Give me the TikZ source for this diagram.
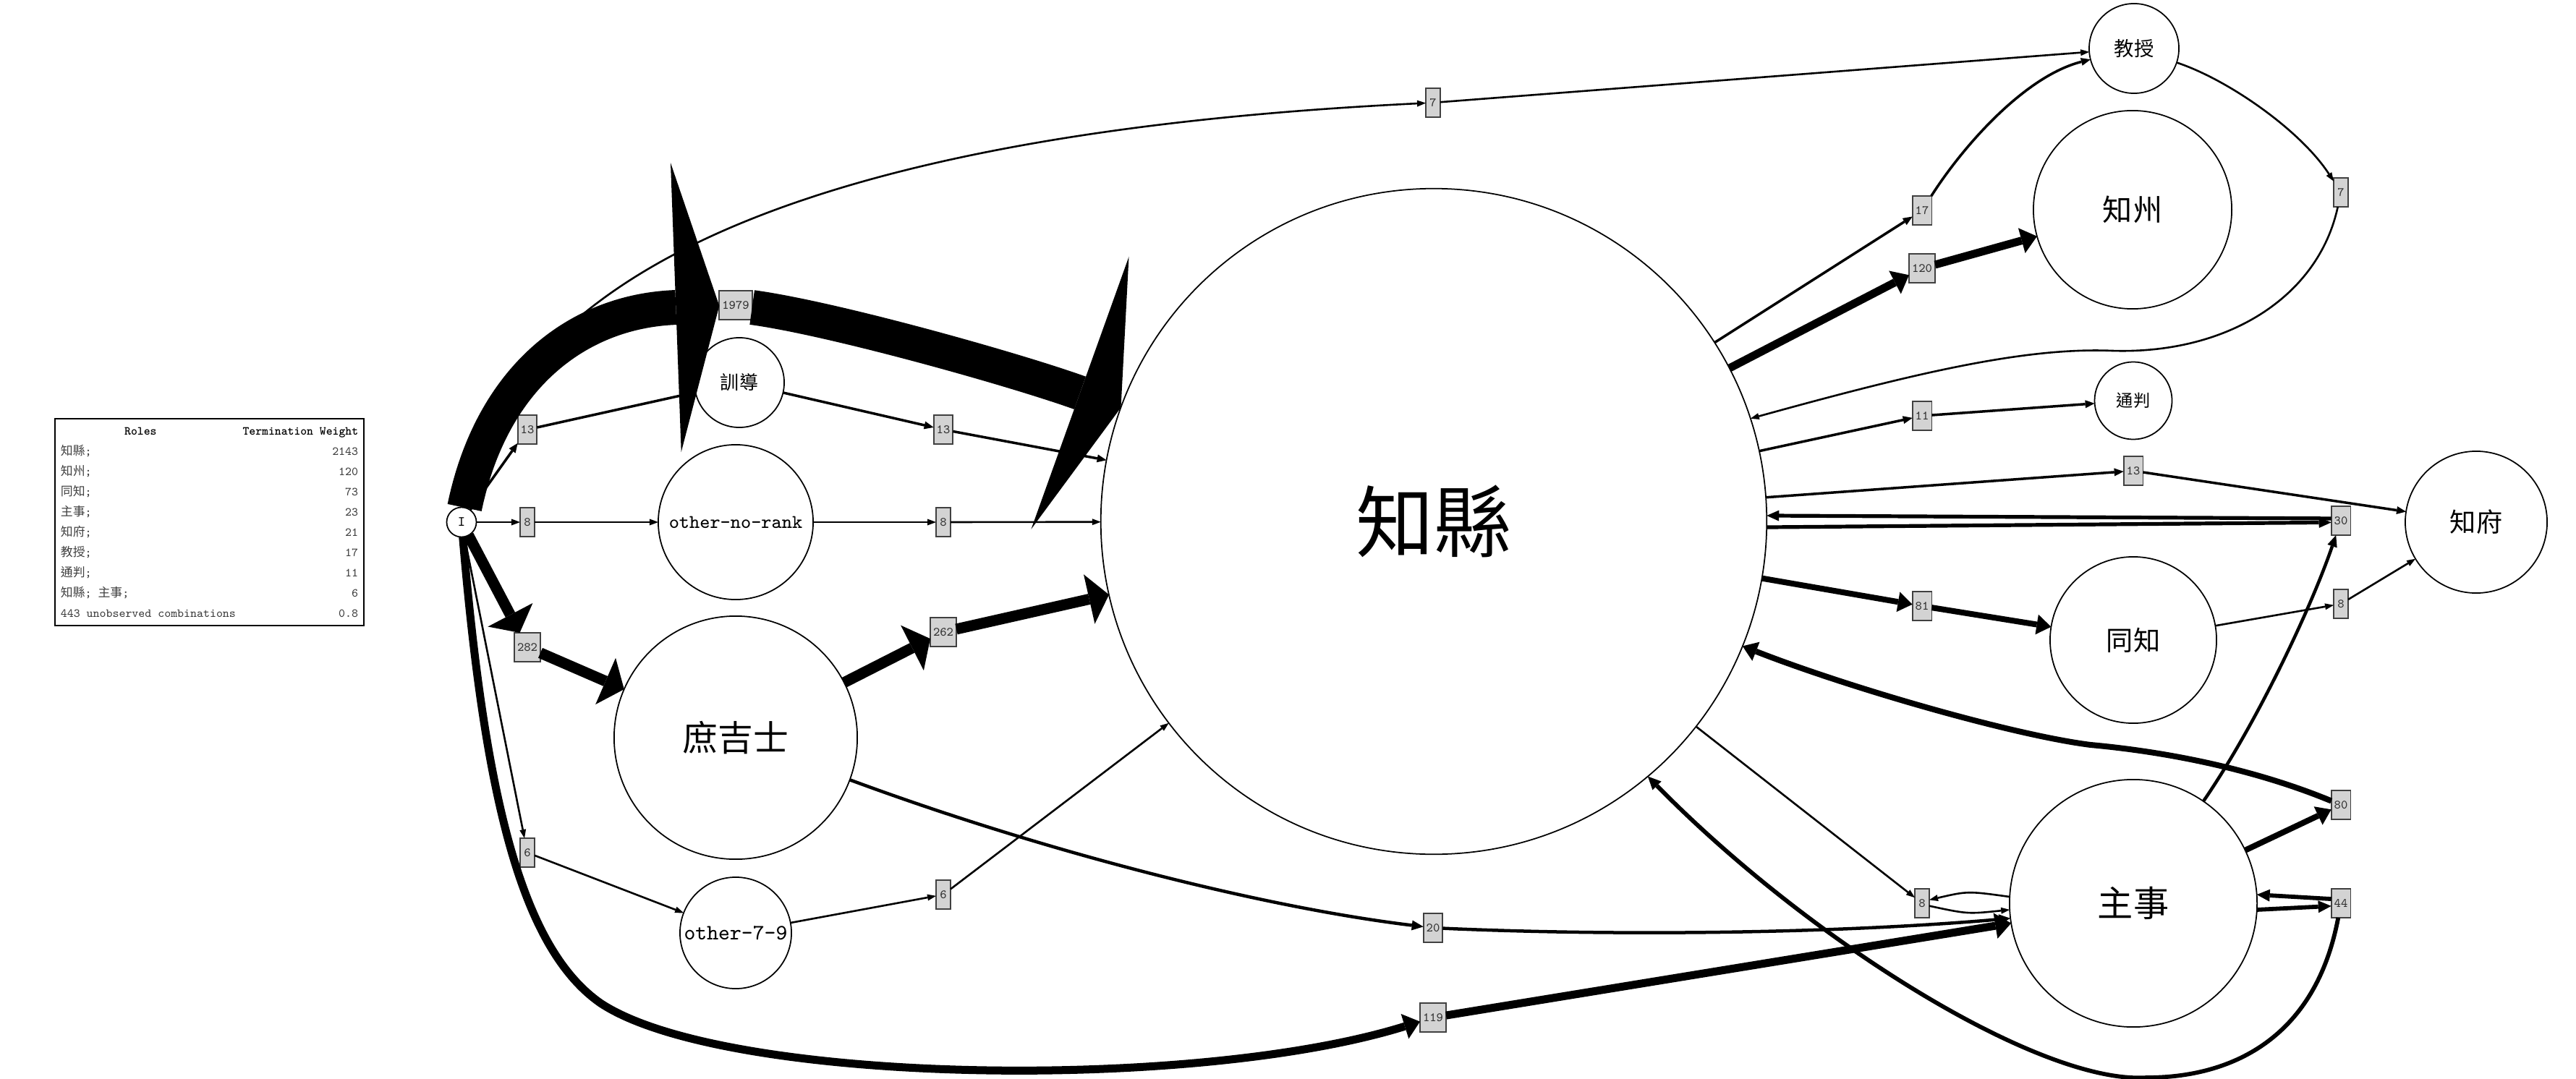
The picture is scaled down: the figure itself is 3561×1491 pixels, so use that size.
\documentclass[tikz,border=0pt]{standalone}
\usepackage{fontspec}
\usepackage{tikz}
\usetikzlibrary{arrows.meta}
\newfontfamily\cjk{Noto Sans CJK TC}
\definecolor{boxgray}{RGB}{211,211,211}
\tikzstyle{role}=[circle, draw, line width=0.5pt,
                  inner sep=0pt, outer sep=0pt]
\tikzstyle{wbox}=[rectangle, draw=black!75, fill=boxgray,
                  line width=0.5pt, minimum width=0.2cm,
                  minimum height=0.4cm, inner xsep=0.04cm,
                  inner ysep=0pt, outer sep=0pt, text=black!80,
                  font=\ttfamily\fontsize{5pt}{5pt}\selectfont]
\tikzstyle{flow}=[line cap=butt, line join=miter]
\tikzstyle{w2} =[flow, line width=0.026cm,
                 -{Triangle[length=0.12cm, width=0.09cm, line width=0pt]}]
\tikzstyle{w3} =[flow, line width=0.035cm,
                 -{Triangle[length=0.13cm, width=0.11cm, line width=0pt]}]
\tikzstyle{w4} =[flow, line width=0.045cm,
                 -{Triangle[length=0.16cm, width=0.14cm, line width=0pt]}]
\tikzstyle{w5} =[flow, line width=0.052cm,
                 -{Triangle[length=0.17cm, width=0.15cm, line width=0pt]}]
\tikzstyle{w6} =[flow, line width=0.058cm,
                 -{Triangle[length=0.18cm, width=0.17cm, line width=0pt]}]
\tikzstyle{w8} =[flow, line width=0.08cm,
                 -{Triangle[length=0.20cm, width=0.28cm, line width=0pt]}]
\tikzstyle{w11}=[flow, line width=0.11cm,
                 -{Triangle[length=0.22cm, width=0.36cm, line width=0pt]}]
\tikzstyle{w15}=[flow, line width=0.15cm,
                 -{Triangle[length=0.28cm, width=0.70cm, line width=0pt]}]
\tikzstyle{w48}=[flow, line width=0.48cm,
                 -{Triangle[length=0.60cm, width=4.00cm, line width=0pt]}]

\begin{document}
\begin{tikzpicture}[x=0.01cm, y=-0.01cm]
    \useasboundingbox (0,0) rectangle (3561,1491);

    % legend
    \node[draw, line width=0.5pt, inner xsep=0.08cm, inner ysep=0.03cm,
          font=\ttfamily\fontsize{4.8pt}{7.97pt}\selectfont] (tbl) at (289.5,722) {%
        \begin{tabular*}{4.11cm}{@{}l@{\extracolsep{\fill}}r@{}}
            \multicolumn{1}{@{}c}{\textbf{Roles}} & \textbf{Termination Weight}\\
            \color{black!75}{\cjk 知縣}; & \color{black!75}2143\\
            \color{black!75}{\cjk 知州}; & \color{black!75}120\\
            \color{black!75}{\cjk 同知}; & \color{black!75}73\\
            \color{black!75}{\cjk 主事}; & \color{black!75}23\\
            \color{black!75}{\cjk 知府}; & \color{black!75}21\\
            \color{black!75}{\cjk 教授}; & \color{black!75}17\\
            \color{black!75}{\cjk 通判}; & \color{black!75}11\\
            \color{black!75}{\cjk 知縣}; {\cjk 主事}; & \color{black!75}6\\
            \color{black!75}443 unobserved combinations & \color{black!75}0.8
        \end{tabular*}};

    % roles
    \node[role, minimum size=0.41cm, font=\ttfamily\fontsize{5.5pt}{6pt}\selectfont] (I) at (638,722) {I};
    \node[role, minimum size=1.24cm, font=\cjk\fontsize{7.4pt}{8pt}\selectfont] (xd) at (1022,529) {訓導};
    \node[role, minimum size=2.14cm, font=\ttfamily\fontsize{7.6pt}{8pt}\selectfont] (onr) at (1017,722) {other-no-rank};
    \node[role, minimum size=3.36cm, font=\cjk\fontsize{13.9pt}{14pt}\selectfont] (sjs) at (1017,1020) {庶吉士};
    \node[role, minimum size=1.54cm, font=\ttfamily\fontsize{8.6pt}{9pt}\selectfont] (o79) at (1017,1290) {other-7-9};
    \node[role, minimum size=9.2cm, font=\cjk\fontsize{30.7pt}{31pt}\selectfont] (zx) at (1982,721) {知縣};
    \node[role, minimum size=1.24cm, font=\cjk\fontsize{7.8pt}{8pt}\selectfont] (js) at (2950,67) {教授};
    \node[role, minimum size=2.74cm, font=\cjk\fontsize{11.7pt}{12pt}\selectfont] (zz) at (2948,290) {知州};
    \node[role, minimum size=1.07cm, font=\cjk\fontsize{6.6pt}{7pt}\selectfont] (tp) at (2949,554) {通判};
    \node[role, minimum size=1.96cm, font=\cjk\fontsize{10.3pt}{11pt}\selectfont] (zf) at (3423,722) {知府};
    \node[role, minimum size=2.30cm, font=\cjk\fontsize{10.6pt}{11pt}\selectfont] (tz) at (2949,885) {同知};
    \node[role, minimum size=3.42cm, font=\cjk\fontsize{14pt}{15pt}\selectfont] (zs) at (2949,1249) {主事};

    % weight boxes
    \foreach \n/\x/\y/\w in {b7a/1981/142/7, b1979/1017/422/1979, b13a/729/594/13,
        b8a/729/722/8, b282/729/895/282, b6a/729/1179/6, b13b/1304/594/13,
        b8b/1304/722/8, b262/1304/874/262, b6b/1304/1237/6, b20/1981/1283/20,
        b119/1981/1407/119, b17/2657/291/17, b120/2657/371/120, b11/2657/575/11,
        b81/2657/838/81, b8d/2657/1249/8, b13c/2949/651/13, b7b/3236/266/7,
        b30/3236/720/30, b8c/3236/835/8, b80/3236/1113/80, b44/3236/1249/44}
        \node[wbox] (\n) at (\x,\y) {\w};

    % out of I
    \draw[w2] (I) .. controls (690,430) and (1000,190) .. (b7a);
    \draw[w2] (b7a) to (js);
    \draw[w48] (I) .. controls (680,520) and (800,430) .. (b1979);
    \draw[w48] (b1979) .. controls (1150,440) and (1400,510) .. (zx.160);
    \draw[w3] (I) to (b13a);
    \draw[w3] (b13a) to (xd);
    \draw[w3] (xd) to (b13b);
    \draw[w3] (b13b) to (zx);
    \draw[w2] (I) to (b8a);
    \draw[w2] (b8a) to (onr);
    \draw[w2] (onr) to (b8b);
    \draw[w2] (b8b) to (zx);
    \draw[w15] (I) to (b282);
    \draw[w15] (b282) to (sjs);
    \draw[w15] (sjs) to (b262);
    \draw[w15] (b262) to (zx);
    \draw[w2] (I) to (b6a);
    \draw[w2] (b6a) to (o79);
    \draw[w2] (o79) to (b6b);
    \draw[w2] (b6b) to (zx);
    \draw[w11] (I) .. controls (670,1100) and (720,1310) .. (830,1387)
                   .. controls (1000,1500) and (1650,1510) .. (b119);
    \draw[w11] (b119) to (zs);
    \draw[w4] (sjs) .. controls (1450,1180) and (1750,1255) .. (b20);
    \draw[w4] (b20) .. controls (2250,1295) and (2550,1290) .. (zs.187);

    % out of the right side
    \draw[w3] (zx) to (b17);
    \draw[w3] (b17) .. controls (2715,200) and (2800,105) .. (js);
    \draw[w11] (zx) to (b120);
    \draw[w11] (b120) to (zz);
    \draw[w2] (js) .. controls (3080,110) and (3180,180) .. (b7b);
    \draw[w2] (b7b) .. controls (3205,410) and (3080,490) .. (2920,485)
                    .. controls (2800,480) and (2650,515) .. (zx.18);
    \draw[w3] (zx) to (b11);
    \draw[w3] (b11) to (tp);
    \draw[w3] (zx) to (b13c);
    \draw[w3] (b13c) to (zf);
    \draw[w5] (zx.-1) to (b30.190);
    \draw[w5] (b30.167) to (zx.1);
    \draw[w4] (zs) .. controls (3120,1000) and (3195,840) .. (b30);
    \draw[w8] (zx) to (b81);
    \draw[w8] (b81) to (tz);
    \draw[w2] (tz) to (b8c);
    \draw[w2] (b8c) to (zf);
    \draw[w8] (zs) to (b80);
    \draw[w8] (b80) .. controls (3120,1065) and (3000,1040) .. (2890,1030)
                    .. controls (2780,1016) and (2553,950) .. (zx.-22);
    \draw[w2] (zx) to (b8d);
    \draw[w2] (zs.177) .. controls (2720,1232) .. (b8d.25);
    \draw[w2] (b8d.-20) .. controls (2720,1264) .. (zs.183);
    \draw[w6] (zs.-3) to (b44.196);
    \draw[w6] (b44.156) to (zs.4);
    \draw[w6] (b44) .. controls (3200,1440) and (3080,1490) .. (2968,1490)
                    .. controls (2820,1500) and (2500,1300) .. (zx.-50);
\end{tikzpicture}
\end{document}
